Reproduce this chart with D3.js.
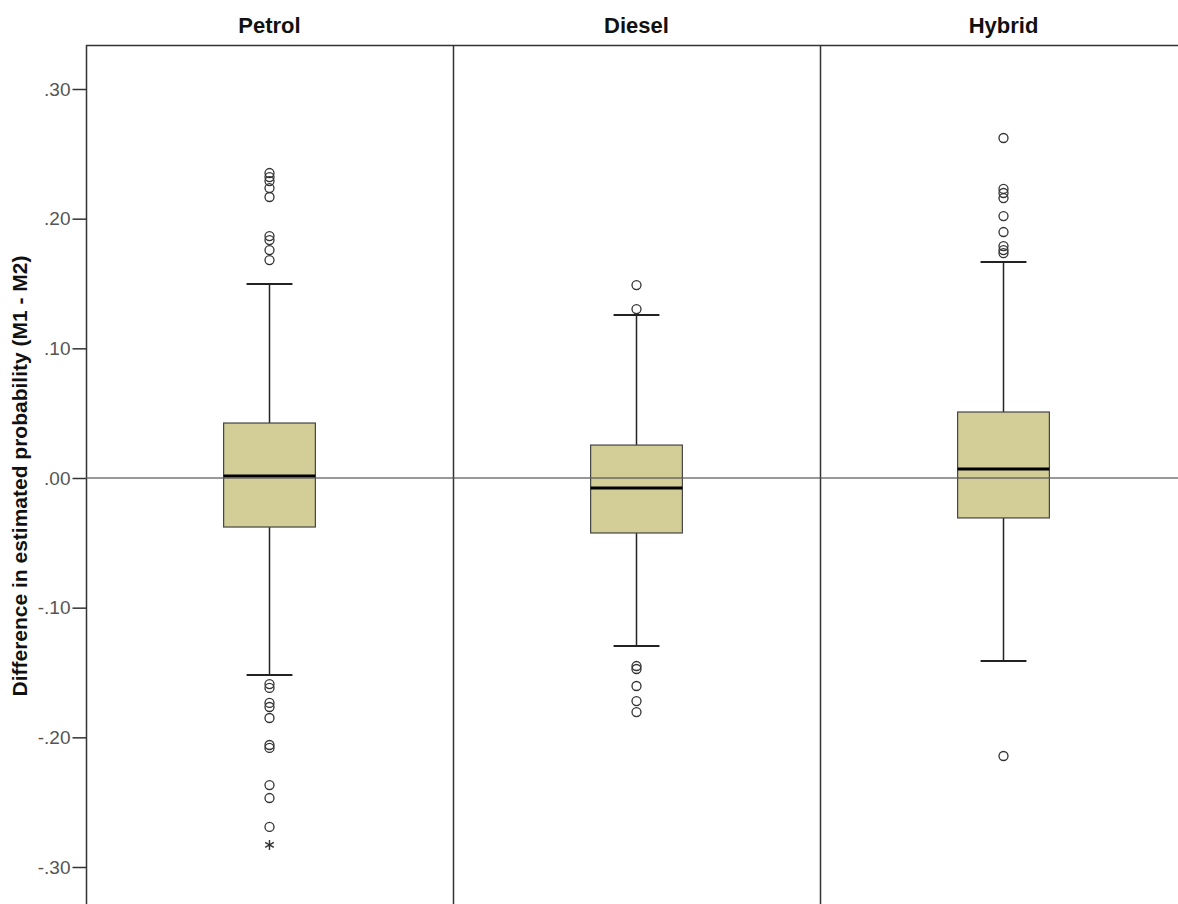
<!DOCTYPE html>
<html>
<head>
<meta charset="utf-8">
<script src="https://cdn.jsdelivr.net/npm/d3@7"></script>
<style>
	body { margin: 0; background: #fff; }
	text { font-family: "Liberation Sans", Arial, sans-serif; }
</style>
</head>
<body>
<div id="chart"></div>
<script>
	///////////////////////////////////////////////////////////////////////////
	//////////////////////////////// Data /////////////////////////////////////
	///////////////////////////////////////////////////////////////////////////

	var fuels = ["Petrol", "Diesel", "Hybrid"];

	//five number summary per fuel type: lower whisker, Q1, median, Q3, upper whisker
	var whiskerLow = [-0.152, -0.1296, -0.1411];
	var q1 = [-0.0378, -0.0424, -0.0308];
	var medians = [0.0015, -0.0077, 0.0069];
	var q3 = [0.0424, 0.0254, 0.0509];
	var whiskerHigh = [0.1496, 0.1257, 0.1666];

	//outliers (circles)
	var outliers = [
		[0.2352, 0.2321, 0.2290, 0.2236, 0.2167, 0.1866, 0.1835, 0.1758, 0.1681,
		 -0.1589, -0.1619, -0.1735, -0.1766, -0.1851, -0.2059, -0.2082, -0.2368, -0.2468, -0.2691],
		[0.1488, 0.1303, -0.1450, -0.1473, -0.1604, -0.1720, -0.1805],
		[0.2622, 0.2229, 0.2198, 0.2159, 0.2020, 0.1897, 0.1789, 0.1758, 0.1735, -0.2144]
	];
	//extreme values (asterisks)
	var extremes = [[-0.2830], [], []];

	var yTicks = [-0.30, -0.20, -0.10, 0.00, 0.10, 0.20, 0.30];

	///////////////////////////////////////////////////////////////////////////
	//////////////////// Set up and initiate svg containers ///////////////////
	///////////////////////////////////////////////////////////////////////////

	var width = 1178,
		height = 904;
	var margin = { top: 45, left: 86 };

	var svg = d3.select("#chart").append("svg")
		.attr("width", width)
		.attr("height", height);

	var x = d3.scaleBand()
		.domain(fuels)
		.range([margin.left, margin.left + 3 * 367])
		.padding(0);

	var y = d3.scaleLinear()
		.domain([-0.3, 0.3])
		.range([867, 89]);

	var boxWidth = x.bandwidth() * 0.25,
		capWidth = boxWidth / 2;

	//SPSS style labels: .30, -.30 (plain hyphen, no leading zero)
	var tickFormat = function(d) {
		return d3.format(".2f")(d).replace("\u2212", "-").replace("0.", ".");
	};

	///////////////////////////////////////////////////////////////////////////
	//////////////////////////// Frame and axis ///////////////////////////////
	///////////////////////////////////////////////////////////////////////////

	//Top border
	svg.append("line")
		.attr("x1", margin.left).attr("x2", width)
		.attr("y1", margin.top + 0.5).attr("y2", margin.top + 0.5)
		.style("stroke", "#333").style("stroke-width", 1.5);

	//Panel dividers
	svg.selectAll(".divider")
		.data(fuels.slice(1))
		.enter().append("line")
		.attr("class", "divider")
		.attr("x1", function(d) { return x(d) + 0.5; })
		.attr("x2", function(d) { return x(d) + 0.5; })
		.attr("y1", margin.top)
		.attr("y2", height)
		.style("stroke", "#333").style("stroke-width", 1.5);

	//Y axis
	var yAxis = svg.append("g")
		.attr("transform", "translate(" + (margin.left + 0.5) + ",0)")
		.call(d3.axisLeft(y).tickValues(yTicks).tickSize(14).tickPadding(2).tickFormat(tickFormat));

	yAxis.select(".domain").remove();
	yAxis.append("line")
		.attr("y1", margin.top).attr("y2", height)
		.style("stroke", "#333").style("stroke-width", 1.5);
	yAxis.selectAll(".tick line").style("stroke", "#333").style("stroke-width", 1.5);
	yAxis.selectAll(".tick text")
		.style("font-family", "'Liberation Sans', Arial, sans-serif")
		.style("font-size", "19px")
		.style("fill", "#555");

	//Y axis title
	svg.append("text")
		.attr("transform", "translate(27," + (y(0) - 2) + ") rotate(-90)")
		.attr("text-anchor", "middle")
		.style("font-size", "21px")
		.style("font-weight", "bold")
		.style("fill", "#111")
		.text("Difference in estimated probability (M1 - M2)");

	//Panel headers
	svg.selectAll(".header")
		.data(fuels)
		.enter().append("text")
		.attr("class", "header")
		.attr("x", function(d) { return x(d) + x.bandwidth() / 2; })
		.attr("y", 33)
		.attr("text-anchor", "middle")
		.style("font-size", "22px")
		.style("font-weight", "bold")
		.style("fill", "#111")
		.text(function(d) { return d; });

	///////////////////////////////////////////////////////////////////////////
	/////////////////////////////// Box plots /////////////////////////////////
	///////////////////////////////////////////////////////////////////////////

	fuels.forEach(function(f, i) {
		var cx = x(f) + x.bandwidth() / 2;
		var g = svg.append("g").attr("class", "box");

		//Whiskers
		g.append("line")
			.attr("x1", cx).attr("x2", cx)
			.attr("y1", y(whiskerHigh[i])).attr("y2", y(q3[i]))
			.style("stroke", "#222").style("stroke-width", 1.5);
		g.append("line")
			.attr("x1", cx).attr("x2", cx)
			.attr("y1", y(q1[i])).attr("y2", y(whiskerLow[i]))
			.style("stroke", "#222").style("stroke-width", 1.5);
		[whiskerHigh[i], whiskerLow[i]].forEach(function(v) {
			g.append("line")
				.attr("x1", cx - capWidth / 2).attr("x2", cx + capWidth / 2)
				.attr("y1", y(v)).attr("y2", y(v))
				.style("stroke", "#222").style("stroke-width", 2);
		});

		//Box
		g.append("rect")
			.attr("x", cx - boxWidth / 2)
			.attr("y", y(q3[i]))
			.attr("width", boxWidth)
			.attr("height", y(q1[i]) - y(q3[i]))
			.style("fill", "#d3ce97")
			.style("stroke", "#444")
			.style("stroke-width", 1.2);

		//Median
		g.append("line")
			.attr("x1", cx - boxWidth / 2).attr("x2", cx + boxWidth / 2)
			.attr("y1", y(medians[i])).attr("y2", y(medians[i]))
			.style("stroke", "#000").style("stroke-width", 3);

		//Outliers
		g.selectAll(".outlier")
			.data(outliers[i])
			.enter().append("circle")
			.attr("class", "outlier")
			.attr("cx", cx)
			.attr("cy", function(d) { return y(d); })
			.attr("r", 4.5)
			.style("fill", "none")
			.style("stroke", "#333")
			.style("stroke-width", 1.3);

		//Extremes
		g.selectAll(".extreme")
			.data(extremes[i])
			.enter().append("path")
			.attr("class", "extreme")
			.attr("transform", function(d) { return "translate(" + cx + "," + y(d) + ")"; })
			.attr("d", d3.symbol(d3.symbolAsterisk, 70))
			.style("fill", "none")
			.style("stroke", "#333")
			.style("stroke-width", 1.4);
	});

	//Reference line at zero, drawn on top
	svg.append("line")
		.attr("x1", margin.left).attr("x2", width)
		.attr("y1", y(0)).attr("y2", y(0))
		.style("stroke", "#555")
		.style("stroke-opacity", 0.8)
		.style("stroke-width", 1.5);
</script>
</body>
</html>
